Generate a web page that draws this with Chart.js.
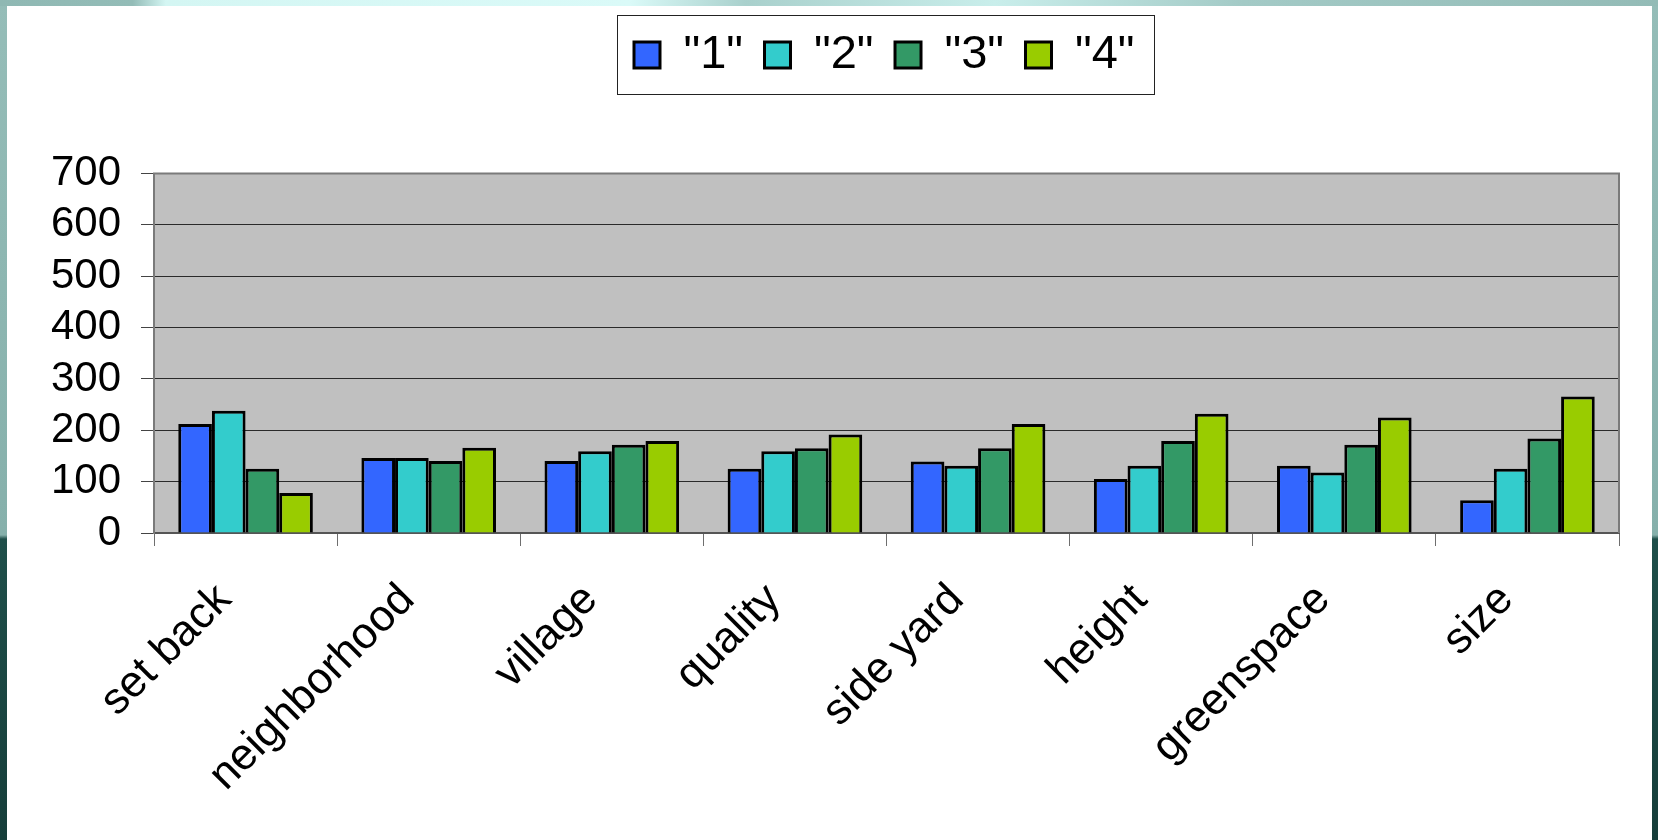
<!DOCTYPE html>
<html>
<head>
<meta charset="utf-8">
<title>Survey ratings</title>
<script src="https://cdn.jsdelivr.net/npm/chart.js@4.4.1/dist/chart.umd.min.js"></script>
<style>
  html, body { margin: 0; padding: 0; }
  body {
    width: 1658px;
    height: 840px;
    overflow: hidden;
    position: relative;
    background: linear-gradient(to bottom, #95bdb8 0px, #86b0ab 535px, #1f4f4a 539px, #163e3a 840px);
  }
  .top-strip {
    position: absolute; left: 0; top: 0; width: 1658px; height: 6px;
    background: linear-gradient(to right, #8fb8b3 0%, #93bcb7 8%, #d4f6f3 10%, #dafaf8 38%, #a9d0cc 45%, #c9eeeb 60%, #a3cac6 75%, #93bbb6 100%);
  }
  .panel {
    position: absolute; left: 7px; top: 6px; width: 1645px; height: 834px;
    background: #fff;
  }
  .chart-box { position: absolute; left: 0; top: 0; width: 1658px; height: 840px; }
</style>
</head>
<body>
<div class="top-strip"></div>
<div class="panel"></div>
<div class="chart-box"><canvas id="chart"></canvas></div>

<script>
const categories = ['set back', 'neighborhood', 'village', 'quality', 'side yard', 'height', 'greenspace', 'size'];
const seriesNames = ['"1"', '"2"', '"3"', '"4"'];
const series1 = [212, 146, 140, 125, 139, 105, 131, 64];
const series2 = [238, 146, 159, 159, 131, 131, 118, 125];
const series3 = [125, 140, 172, 165, 165, 179, 172, 184];
const series4 = [78, 166, 179, 192, 212, 232, 225, 266];
const seriesColors = ['#3366ff', '#33cccc', '#339966', '#99cc00'];
const yMin = 0;
const yMax = 700;
const yStep = 100;

Chart.defaults.font.family = "'Liberation Sans', Arial, sans-serif";
Chart.defaults.color = '#000';

// grey plot area with a thin frame
const plotArea = {
    id: 'plotArea',
    beforeDraw(chart) {
        const {ctx, chartArea: a} = chart;
        ctx.save();
        ctx.fillStyle = '#c0c0c0';
        ctx.fillRect(a.left, a.top, a.right - a.left, a.bottom - a.top);
        ctx.restore();
    },
    beforeDatasetsDraw(chart) {
        const {ctx, chartArea: a} = chart;
        ctx.save();
        ctx.strokeStyle = '#7a7a7a';
        ctx.lineWidth = 2;
        ctx.beginPath();
        ctx.moveTo(a.left, a.bottom);
        ctx.lineTo(a.left, a.top);
        ctx.lineTo(a.right, a.top);
        ctx.lineTo(a.right, a.bottom);
        ctx.stroke();
        ctx.restore();
    }
};

// legend sits in its own box near the top, a little right of centre
const legendBox = {
    id: 'legendBox',
    afterLayout(chart) {
        const lg = chart.legend;
        const pad = lg.options.labels.padding;
        const start = 634;
        const dx = start + (lg.lineWidths[0] - pad) / 2 - (lg.left + lg.right) / 2;
        lg.left += dx;
        lg.right += dx;
        const dy = 10 - lg.top;
        lg.top += dy;
        lg.bottom += dy;
    },
    afterDraw(chart) {
        const hb = chart.legend.legendHitBoxes;
        if (!hb.length) return;
        const first = hb[0];
        const last = hb[hb.length - 1];
        const cy = first.top + first.height / 2;
        const x0 = Math.round(first.left - 17) + 0.5;
        const x1 = Math.round(last.left + last.width + 19) + 0.5;
        const {ctx} = chart;
        ctx.save();
        ctx.strokeStyle = '#222';
        ctx.lineWidth = 1;
        ctx.strokeRect(x0, Math.round(cy - 40) + 0.5, x1 - x0, 79);
        ctx.restore();
    }
};

const seriesValues = [series1, series2, series3, series4];

new Chart(document.getElementById('chart'), {
    type: 'bar',
    data: {
        labels: categories,
        datasets: seriesNames.map((name, i) => ({
            label: name,
            data: seriesValues[i],
            backgroundColor: seriesColors[i],
            borderColor: '#000',
            borderWidth: 3
        }))
    },
    options: {
        responsive: true,
        maintainAspectRatio: false,
        devicePixelRatio: 1,
        animation: false,
        datasets: {
            bar: {
                categoryPercentage: 0.735,
                barPercentage: 1.0
            }
        },
        layout: {
            padding: {top: 95, right: 39, bottom: 0, left: 0}
        },
        plugins: {
            tooltip: {enabled: false},
            legend: {
                position: 'top',
                labels: {
                    font: {size: 47},
                    color: '#000',
                    boxWidth: 26,
                    boxHeight: 26,
                    padding: 21.5
                }
            }
        },
        scales: {
            x: {
                offset: true,
                grid: {
                    offset: true,
                    drawOnChartArea: false,
                    drawTicks: true,
                    tickLength: 13,
                    tickColor: '#6e6e6e',
                    color: '#6e6e6e'
                },
                border: {display: true, color: '#555', width: 2},
                ticks: {
                    font: {size: 44},
                    color: '#000',
                    minRotation: 45,
                    maxRotation: 45,
                    autoSkip: false,
                    padding: 28,
                    labelOffset: -21
                },
                afterFit(scale) {
                    scale.height = 840 - 533;
                }
            },
            y: {
                min: yMin,
                max: yMax,
                ticks: {
                    stepSize: yStep,
                    autoSkip: false,
                    font: {size: 42},
                    color: '#000',
                    padding: 20
                },
                grid: {
                    color: '#2a2a2a',
                    lineWidth: 1,
                    tickLength: 13,
                    tickColor: '#444'
                },
                border: {display: true, color: '#7a7a7a', width: 2},
                afterFit(scale) {
                    scale.width = 154;
                }
            }
        }
    },
    plugins: [plotArea, legendBox]
});
</script>
</body>
</html>
